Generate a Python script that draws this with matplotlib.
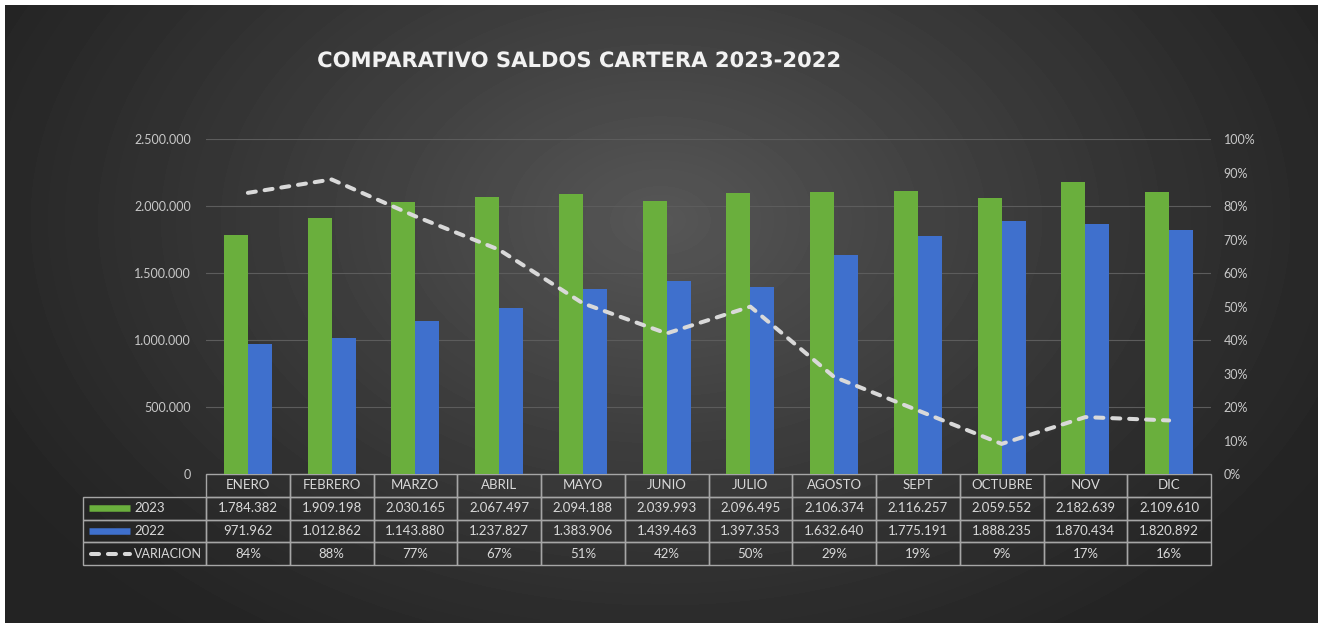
import numpy as np
import matplotlib.pyplot as plt
import matplotlib.patheffects as pe
from matplotlib.ticker import FuncFormatter, MultipleLocator
from matplotlib.lines import Line2D
from matplotlib.table import Table

meses = ["ENERO", "FEBRERO", "MARZO", "ABRIL", "MAYO", "JUNIO", "JULIO",
         "AGOSTO", "SEPT", "OCTUBRE", "NOV", "DIC"]
saldo_2023 = [1784382, 1909198, 2030165, 2067497, 2094188, 2039993,
              2096495, 2106374, 2116257, 2059552, 2182639, 2109610]
saldo_2022 = [971962, 1012862, 1143880, 1237827, 1383906, 1439463,
              1397353, 1632640, 1775191, 1888235, 1870434, 1820892]
variacion = [0.84, 0.88, 0.77, 0.67, 0.51, 0.42, 0.50, 0.29, 0.19, 0.09, 0.17, 0.16]
series = ["2023", "2022", "VARIACION"]

VERDE = "#6aaf3d"
AZUL = "#3f70cd"
LINEA = "#d9d9d9"
TEXTO = "#c8c8c8"
FUENTE = "Lato"

W, H = 1318, 623
fig = plt.figure(figsize=(W / 100, H / 100), dpi=100, facecolor="white")

# fondo con degradado radial
bg = fig.add_axes([5 / W, 0, 1 - 5 / W, 1 - 5 / H], zorder=-10)
yy, xx = np.mgrid[0:H - 5, 0:W - 5]
r = np.clip(np.sqrt(((xx - 655) / 760) ** 2 + ((yy - 215) / 520) ** 2), 0, 1)
shade = 0.14 + 0.20 * (1 - r) ** 1.2
bg.imshow(shade, cmap="gray", vmin=0, vmax=1, aspect="auto", interpolation="bilinear")
bg.axis("off")

left, right = 206 / W, 1211 / W
bottom, top = 1 - 474 / H, 1 - 139.3 / H
ax = fig.add_axes([left, bottom, right - left, top - bottom])
ax.patch.set_visible(False)
for s in ax.spines.values():
    s.set_visible(False)

x = np.arange(len(meses))
ancho = 0.287
ax.bar(x - ancho / 2, saldo_2023, width=ancho, color=VERDE, zorder=3)
ax.bar(x + ancho / 2, saldo_2022, width=ancho, color=AZUL, zorder=3)
ax.set_xlim(-0.5, len(meses) - 0.5)
ax.set_ylim(0, 2500000)
ax.yaxis.set_major_locator(MultipleLocator(500000))
ax.yaxis.set_major_formatter(FuncFormatter(lambda v, p: f"{v:,.0f}".replace(",", ".")))
ax.yaxis.grid(True, color="#5c5c5c", lw=0.8)
ax.set_axisbelow(True)
ax.set_xticks([])
ax.tick_params(axis="y", length=0, pad=11, labelcolor=TEXTO, labelsize=9)
for t in ax.get_yticklabels():
    t.set_fontfamily(FUENTE)

ax2 = ax.twinx()
for s in ax2.spines.values():
    s.set_visible(False)
ax2.set_ylim(0, 1)
ax2.yaxis.set_major_locator(MultipleLocator(0.1))
ax2.yaxis.set_major_formatter(FuncFormatter(lambda v, p: f"{v:.0%}"))
ax2.tick_params(axis="y", length=0, pad=9, labelcolor=TEXTO, labelsize=9)
for t in ax2.get_yticklabels():
    t.set_fontfamily(FUENTE)
ln, = ax2.plot(x, variacion, color=LINEA, lw=2.9, solid_capstyle="round",
               dash_capstyle="round", zorder=5)
ln.set_dashes((2.0, 2.2))

# tabla de datos (la columna de etiquetas queda a la izquierda del bbox)
lab_w = 123 / 1005
alto = 0.272
fila_h = alto / 4
filas = [
    [f"{v:,}".replace(",", ".") for v in saldo_2023],
    [f"{v:,}".replace(",", ".") for v in saldo_2022],
    [f"{v:.0%}" for v in variacion],
]
tabla = Table(ax, bbox=[0, -alto, 1, alto])
for j, m in enumerate(meses):
    tabla.add_cell(0, j, width=1 / 12, height=fila_h, text=m, loc="center")
for i, fila in enumerate(filas):
    tabla.add_cell(i + 1, -1, width=lab_w, height=fila_h, text="")
    for j, t in enumerate(fila):
        tabla.add_cell(i + 1, j, width=1 / 12, height=fila_h, text=t, loc="center")
tabla.auto_set_font_size(False)
tabla.set_fontsize(9.5)
for cell in tabla.get_celld().values():
    cell.set_facecolor("none")
    cell.set_edgecolor("#a6a6a6")
    cell.set_linewidth(1.0)
    cell.get_text().set_color(LINEA)
    cell.get_text().set_fontfamily(FUENTE)
ax.add_table(tabla)

# claves de la leyenda en la tabla
x0, x1 = (89 - 206) / 1005, (130 - 206) / 1005
for i, nombre in enumerate(series):
    yc = -(i + 1.5) * fila_h
    if i < 2:
        ax.add_line(Line2D([x0, x1], [yc, yc], transform=ax.transAxes, clip_on=False,
                           color=[VERDE, AZUL][i], lw=4.7, solid_capstyle="butt"))
    else:
        clave = Line2D([x0 + 0.002, x1], [yc, yc], transform=ax.transAxes, clip_on=False,
                       color=LINEA, lw=2.9, dash_capstyle="round")
        clave.set_dashes((2.0, 2.2))
        ax.add_line(clave)
    ax.text((134 - 206) / 1005, yc, nombre, transform=ax.transAxes, va="center",
            ha="left", color=LINEA, fontsize=9.5 if i < 2 else 9.0, fontfamily=FUENTE)

fig.text(580 / W, 1 - 61 / H, "COMPARATIVO SALDOS CARTERA 2023-2022", ha="center",
         va="center", color="#f2f2f2", fontsize=15.2, fontweight="bold",
         fontfamily="DejaVu Sans",
         path_effects=[pe.withSimplePatchShadow(offset=(1, -1), alpha=0.5)])

fig.savefig("out.png", dpi=100, facecolor="white")
